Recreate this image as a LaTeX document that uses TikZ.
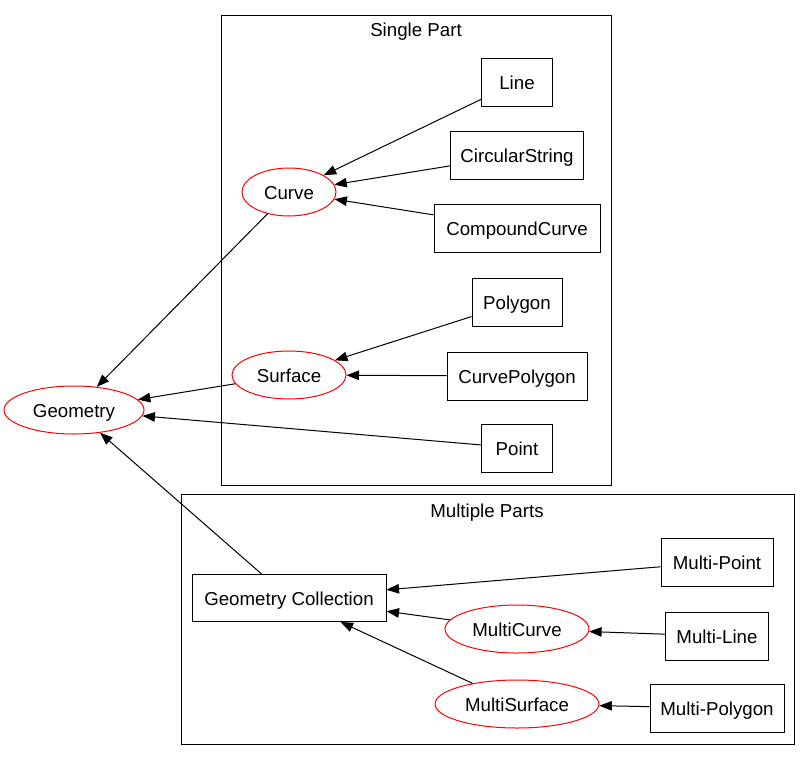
\documentclass[tikz,border=0pt]{standalone}
\usepackage{fontspec}
\setmainfont{Liberation Sans}
\usetikzlibrary{shapes.geometric,arrows.meta}
\begin{document}
\begin{tikzpicture}[x=1pt,y=-1pt,
  every node/.style={font=\fontsize{18.7}{22}\selectfont, inner sep=0pt, text height=18pt, text depth=4pt},
  boxnode/.style={draw, line width=1pt, rectangle, minimum height=48pt},
  ovalnode/.style={draw=red, line width=1pt, ellipse, minimum height=48pt},
  cluster/.style={draw, line width=1pt},
  edge/.style={draw, line width=1pt, -{Triangle[length=12.5pt,width=9.5pt]}}]
\useasboundingbox (0,0) rectangle (811,761);
% clusters
\draw[cluster] (221,15) rectangle (611,485);
\node (lsingle) at (416,29) {Single Part};
\draw[cluster] (181,494) rectangle (794,744);
\node (lmulti) at (487,510) {Multiple Parts};
% nodes
\node[boxnode, minimum width=71pt] (line) at (517,82) {Line};
\node[boxnode, minimum width=133pt] (circ) at (517,155) {CircularString};
\node[boxnode, minimum width=166pt] (comp) at (517,228) {CompoundCurve};
\node[boxnode, minimum width=90pt] (poly) at (517,302) {Polygon};
\node[boxnode, minimum width=140pt] (cpoly) at (517,376) {CurvePolygon};
\node[boxnode, minimum width=71pt] (point) at (517,448) {Point};
\node[ovalnode, minimum width=94pt] (curve) at (289,192) {Curve};
\node[ovalnode, minimum width=114pt] (surf) at (289,375) {Surface};
\node[ovalnode, minimum width=140pt] (geom) at (74,410) {Geometry};
\node[boxnode, minimum width=194pt, minimum height=47pt] (gc) at (289,598) {Geometry Collection};
\node[boxnode, minimum width=112pt] (mpoint) at (717,562) {Multi-Point};
\node[boxnode, minimum width=103pt] (mline) at (717,636) {Multi-Line};
\node[boxnode, minimum width=134pt] (mpoly) at (717,708) {Multi-Polygon};
\node[ovalnode, minimum width=144pt] (mcurve) at (517,629) {MultiCurve};
\node[ovalnode, minimum width=164pt] (msurf) at (517,704) {MultiSurface};
% edges
\draw[edge] (line) -- (curve);
\draw[edge] (circ) -- (curve);
\draw[edge] (comp) -- (curve);
\draw[edge] (poly) -- (surf);
\draw[edge] (cpoly) -- (surf);
\draw[edge] (curve) -- (geom);
\draw[edge] (surf) -- (geom);
\draw[edge] (point) -- (geom);
\draw[edge] (gc) -- (geom);
\draw[edge] (mpoint) -- (gc);
\draw[edge] (mcurve) -- (gc);
\draw[edge] (msurf) -- (gc);
\draw[edge] (mline) -- (mcurve);
\draw[edge] (mpoly) -- (msurf);
\end{tikzpicture}
\end{document}
